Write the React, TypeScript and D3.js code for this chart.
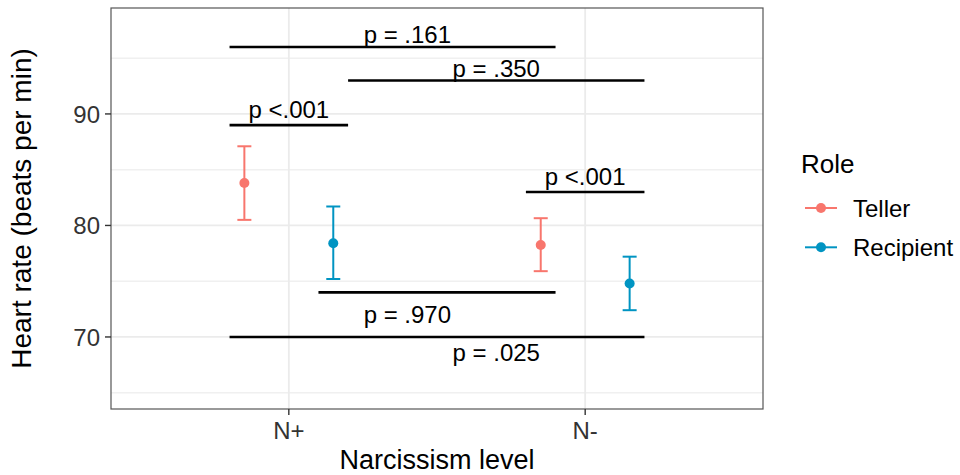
import React from 'react';
import * as d3 from 'd3';

// Narcissism level x Role, mean heart rate with error bars
const levels = ['N+', 'N-'];
const roles = ['Teller', 'Recipient'];
const roleColors = ['#F8766D', '#0094C2'];

const meanHR = [
  [83.8, 78.25], // Teller
  [78.4, 74.8],  // Recipient
];
const lowerHR = [
  [80.5, 75.9],
  [75.2, 72.4],
];
const upperHR = [
  [87.1, 80.65],
  [81.7, 77.2],
];

// significance brackets (x in discrete-axis units)
const bracketLabels = ['p = .161', 'p = .350', 'p <.001', 'p <.001', 'p = .970', 'p = .025'];
const bracketY = [96, 93, 89, 83, 74, 70];
const bracketStart = [0.8, 1.2, 0.8, 1.8, 1.1, 0.8];
const bracketEnd = [1.9, 2.2, 1.2, 2.2, 1.9, 2.2];
const labelX = [1.4, 1.7, 1.0, 2.0, 1.4, 1.7];
const labelY = [96.38, 93.35, 89.67, 83.62, 71.24, 67.8];

const yTicks = [70, 80, 90];
const yMinor = [65, 75, 85, 95];

const W = 960;
const H = 475;
const panel = { left: 111, top: 8, right: 763, bottom: 409 };
const font = '"Liberation Sans", Arial, sans-serif';

export default function App() {
  const x = d3.scaleLinear().domain([0.4, 2.6]).range([panel.left, panel.right]);
  const y = d3.scaleLinear().domain([63.54, 99.5]).range([panel.bottom, panel.top]);
  const dodge = 0.15;
  const cap = 7;

  return (
    <svg width={W} height={H} style={{ position: 'absolute', left: 0, top: 0, background: '#fff' }} fontFamily={font}>
      {/* grid */}
      <g>
        {yMinor.map(v => (
          <line key={'mn' + v} x1={panel.left} x2={panel.right} y1={y(v)} y2={y(v)} stroke="#F0F0F0" strokeWidth={1.4} />
        ))}
        {yTicks.map(v => (
          <line key={'mj' + v} x1={panel.left} x2={panel.right} y1={y(v)} y2={y(v)} stroke="#EBEBEB" strokeWidth={1.8} />
        ))}
        {levels.map((l, i) => (
          <line key={'vx' + l} x1={x(i + 1)} x2={x(i + 1)} y1={panel.top} y2={panel.bottom} stroke="#EBEBEB" strokeWidth={1.8} />
        ))}
      </g>

      {/* brackets */}
      <g>
        {bracketLabels.map((lab, i) => (
          <g key={'br' + i}>
            <line x1={x(bracketStart[i])} x2={x(bracketEnd[i])} y1={y(bracketY[i])} y2={y(bracketY[i])} stroke="#000" strokeWidth={2.6} />
            <text x={x(labelX[i])} y={y(labelY[i])} textAnchor="middle" fontSize={24} fill="#000">{lab}</text>
          </g>
        ))}
      </g>

      {/* error bars + points */}
      <g>
        {roles.map((r, ri) =>
          levels.map((l, li) => {
            const cx = x(li + 1 + (ri === 0 ? -dodge : dodge));
            const col = roleColors[ri];
            return (
              <g key={r + l}>
                <line x1={cx} x2={cx} y1={y(lowerHR[ri][li])} y2={y(upperHR[ri][li])} stroke={col} strokeWidth={2} />
                <line x1={cx - cap} x2={cx + cap} y1={y(lowerHR[ri][li])} y2={y(lowerHR[ri][li])} stroke={col} strokeWidth={2} />
                <line x1={cx - cap} x2={cx + cap} y1={y(upperHR[ri][li])} y2={y(upperHR[ri][li])} stroke={col} strokeWidth={2} />
                <circle cx={cx} cy={y(meanHR[ri][li])} r={5} fill={col} />
              </g>
            );
          })
        )}
      </g>

      {/* panel border */}
      <rect x={panel.left} y={panel.top} width={panel.right - panel.left} height={panel.bottom - panel.top} fill="none" stroke="#555" strokeWidth={1.2} />

      {/* y axis */}
      <g>
        {yTicks.map(v => (
          <g key={'yt' + v}>
            <line x1={panel.left - 6} x2={panel.left} y1={y(v)} y2={y(v)} stroke="#333" strokeWidth={1.4} />
            <text x={panel.left - 11} y={y(v)} dy="0.36em" textAnchor="end" fontSize={24} fill="#333">{v}</text>
          </g>
        ))}
        <text transform={`translate(31,${(panel.top + panel.bottom) / 2}) rotate(-90)`} textAnchor="middle" fontSize={28} fill="#000">
          Heart rate (beats per min)
        </text>
      </g>

      {/* x axis */}
      <g>
        {levels.map((l, i) => (
          <g key={'xt' + l}>
            <line x1={x(i + 1)} x2={x(i + 1)} y1={panel.bottom} y2={panel.bottom + 6} stroke="#333" strokeWidth={1.4} />
            <text x={x(i + 1)} y={439} textAnchor="middle" fontSize={24} fill="#333">{l}</text>
          </g>
        ))}
        <text x={(panel.left + panel.right) / 2} y={469} textAnchor="middle" fontSize={27} fill="#000">Narcissism level</text>
      </g>

      {/* legend */}
      <g>
        <text x={801} y={172.5} fontSize={26} fill="#000">Role</text>
        {roles.map((r, i) => {
          const ly = 208 + i * 39.3;
          return (
            <g key={'lg' + r}>
              <line x1={805} x2={837} y1={ly} y2={ly} stroke={roleColors[i]} strokeWidth={2} />
              <circle cx={821} cy={ly} r={5} fill={roleColors[i]} />
              <text x={853} y={ly} dy="0.36em" fontSize={24} fill="#000">{r}</text>
            </g>
          );
        })}
      </g>
    </svg>
  );
}
